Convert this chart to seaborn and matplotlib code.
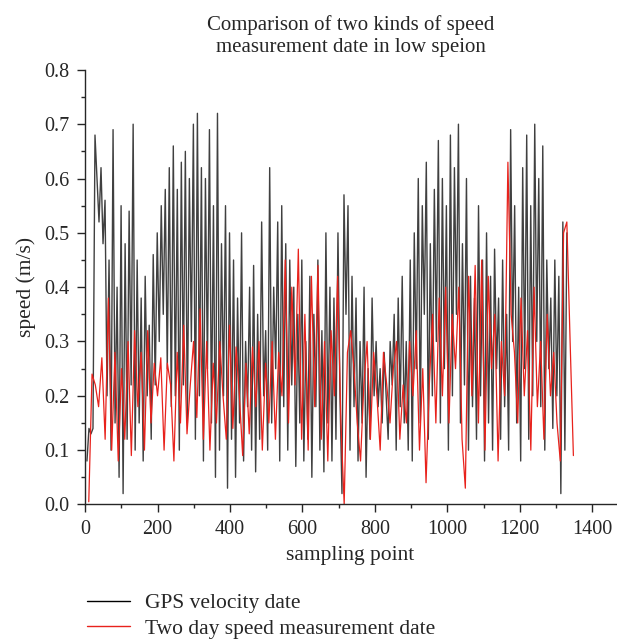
import numpy as np
import pandas as pd
import matplotlib
matplotlib.use("Agg")
import matplotlib.pyplot as plt
from matplotlib.ticker import MultipleLocator
import seaborn as sns

# === Data ===

title = "Comparison of two kinds of speed\nmeasurement date in low speion"
gps_label = "GPS velocity date"
two_day_label = "Two day speed measurement date"

# GPS velocity vertices, sampled evenly between point 5 and point 1330
gps_speed = [
    0.08, 0.14, 0.13, 0.14, 0.68, 0.60, 0.52, 0.62, 0.48, 0.56, 0.20, 0.45, 0.10, 0.69, 0.15, 0.40, 0.05, 0.55,
    0.02, 0.48, 0.12, 0.54, 0.22, 0.70, 0.10, 0.45, 0.15, 0.38, 0.08, 0.42, 0.20, 0.33, 0.12, 0.46, 0.22, 0.50,
    0.30, 0.55, 0.35, 0.58, 0.25, 0.62, 0.18, 0.66, 0.20, 0.58, 0.10, 0.63, 0.22, 0.65, 0.15, 0.60, 0.30, 0.70,
    0.12, 0.72, 0.20, 0.62, 0.08, 0.60, 0.25, 0.69, 0.15, 0.55, 0.05, 0.72, 0.10, 0.48, 0.20, 0.55, 0.03, 0.50,
    0.12, 0.45, 0.05, 0.38, 0.15, 0.50, 0.08, 0.30, 0.18, 0.40, 0.10, 0.44, 0.06, 0.35, 0.12, 0.52, 0.20, 0.32,
    0.10, 0.62, 0.15, 0.40, 0.25, 0.52, 0.08, 0.55, 0.18, 0.48, 0.10, 0.45, 0.22, 0.40, 0.07, 0.35, 0.15, 0.45,
    0.08, 0.30, 0.12, 0.42, 0.05, 0.35, 0.18, 0.45, 0.10, 0.32, 0.06, 0.50, 0.15, 0.40, 0.08, 0.38, 0.12, 0.50,
    0.20, 0.02, 0.57, 0.35, 0.55, 0.10, 0.42, 0.18, 0.38, 0.08, 0.30, 0.15, 0.40, 0.05, 0.25, 0.12, 0.38, 0.20,
    0.30, 0.18, 0.25, 0.15, 0.28, 0.20, 0.12, 0.30, 0.22, 0.35, 0.10, 0.38, 0.18, 0.42, 0.15, 0.30, 0.10, 0.45,
    0.08, 0.50, 0.25, 0.60, 0.15, 0.55, 0.35, 0.63, 0.12, 0.48, 0.20, 0.58, 0.30, 0.67, 0.15, 0.60, 0.25, 0.55,
    0.10, 0.68, 0.20, 0.62, 0.35, 0.70, 0.15, 0.48, 0.22, 0.60, 0.10, 0.42, 0.18, 0.38, 0.12, 0.55, 0.20, 0.45,
    0.08, 0.50, 0.15, 0.42, 0.10, 0.47, 0.25, 0.38, 0.12, 0.45, 0.18, 0.35, 0.10, 0.69, 0.30, 0.55, 0.15, 0.40,
    0.08, 0.62, 0.25, 0.68, 0.12, 0.55, 0.20, 0.70, 0.30, 0.60, 0.18, 0.66, 0.10, 0.45, 0.25, 0.38, 0.14, 0.45,
    0.20, 0.42, 0.02, 0.52, 0.10, 0.50,
]

# Two-day measurement vertices, sampled evenly between point 10 and point 1348
two_day_speed = [
    0.005, 0.24, 0.22, 0.18, 0.27, 0.12, 0.38, 0.10, 0.28, 0.08, 0.25,
    0.12, 0.30, 0.09, 0.32, 0.18, 0.28, 0.10, 0.32, 0.15, 0.26, 0.20,
    0.27, 0.10, 0.26, 0.22, 0.08, 0.28, 0.15, 0.33, 0.13, 0.22, 0.30,
    0.16, 0.36, 0.12, 0.30, 0.10, 0.26, 0.15, 0.30, 0.20, 0.12, 0.33,
    0.14, 0.29, 0.20, 0.09, 0.26, 0.13, 0.29, 0.18, 0.30, 0.10, 0.26,
    0.15, 0.30, 0.12, 0.28, 0.20, 0.45, 0.15, 0.40, 0.22, 0.47, 0.12,
    0.35, 0.10, 0.42, 0.18, 0.44, 0.12, 0.30, 0.08, 0.32, 0.20, 0.42,
    0.15, 0.00, 0.28, 0.32, 0.25, 0.15, 0.08, 0.22, 0.30, 0.12, 0.28,
    0.20, 0.10, 0.28, 0.22, 0.15, 0.25, 0.30, 0.12, 0.22, 0.15, 0.30,
    0.20, 0.32, 0.10, 0.25, 0.04, 0.22, 0.35, 0.15, 0.38, 0.20, 0.40,
    0.15, 0.35, 0.25, 0.40, 0.12, 0.03, 0.42, 0.20, 0.44, 0.15, 0.45,
    0.10, 0.42, 0.25, 0.35, 0.08, 0.30, 0.20, 0.63, 0.35, 0.28, 0.15,
    0.38, 0.20, 0.32, 0.10, 0.40, 0.18, 0.30, 0.12, 0.35, 0.20, 0.28,
    0.15, 0.08, 0.50, 0.52, 0.30, 0.09,
]

gps_points = np.linspace(5, 1330, len(gps_speed))
two_day_points = np.linspace(10, 1348, len(two_day_speed))

df_gps = pd.DataFrame({"point": gps_points, "speed": gps_speed})
df_two = pd.DataFrame({"point": two_day_points, "speed": two_day_speed})

# === Style ===

sns.set_style("ticks")
plt.rcParams["font.family"] = ["Liberation Serif", "DejaVu Serif"]

fig = plt.figure(figsize=(6.17, 6.41), dpi=100)
ax = fig.add_axes([0.138, 0.213, 0.86, 0.678])

sns.lineplot(data=df_gps, x="point", y="speed", color="#404040", linewidth=1.0,
             sort=False, estimator=None, ax=ax, label=gps_label)
sns.lineplot(data=df_two, x="point", y="speed", color="#e8221c", linewidth=0.9,
             sort=False, estimator=None, ax=ax, label=two_day_label)

ax.set_xlim(0, 1465)
ax.set_ylim(0, 0.8)
ax.xaxis.set_major_locator(MultipleLocator(200))
ax.xaxis.set_minor_locator(MultipleLocator(100))
ax.yaxis.set_major_locator(MultipleLocator(0.1))
ax.yaxis.set_minor_locator(MultipleLocator(0.05))
ax.yaxis.set_major_formatter(plt.FormatStrFormatter("%.1f"))
ax.tick_params(which="major", direction="out", length=6, width=1, labelsize=14.5, pad=5)
ax.tick_params(which="minor", direction="out", length=3, width=1)
sns.despine(ax=ax)
for side in ["left", "bottom"]:
    ax.spines[side].set_linewidth(1.0)

ax.set_xlabel("sampling point", fontsize=15.5, labelpad=5)
ax.set_ylabel("speed (m/s)", fontsize=15.5, labelpad=6)
ax.set_title(title, fontsize=15, linespacing=1.2, pad=13)

# legend below the axes, no frame
handles, labels = ax.get_legend_handles_labels()
ax.get_legend().remove()
leg_handles = [plt.Line2D([], [], color="black", linewidth=1.0),
               plt.Line2D([], [], color="#e8221c", linewidth=1.0)]
fig.legend(leg_handles, labels, loc="upper left", bbox_to_anchor=(0.127, 0.088),
           frameon=False, fontsize=15.5, handlelength=2.0, handletextpad=0.7,
           labelspacing=0.25, borderaxespad=0)

fig.savefig("out.png", dpi=100)
